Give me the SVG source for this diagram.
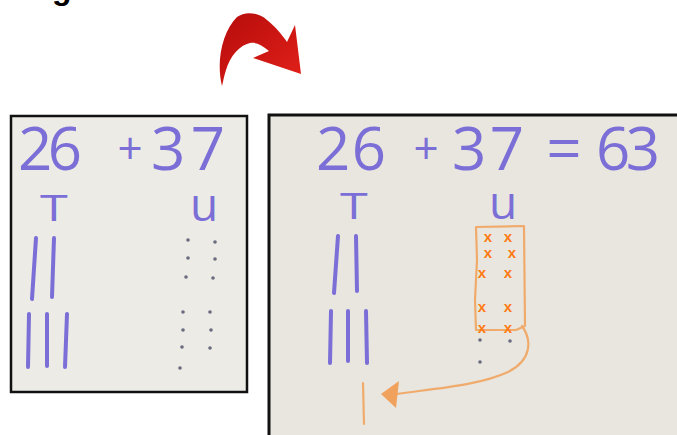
<svg xmlns="http://www.w3.org/2000/svg" width="677" height="435" viewBox="0 0 677 435">
  <defs>
    <linearGradient id="redGrad" x1="0" y1="0" x2="1" y2="1">
      <stop offset="0" stop-color="#b50c0b"/>
      <stop offset="1" stop-color="#e3211a"/>
    </linearGradient>
  </defs>
  <style>
    .board { stroke: #111; }
    .pen { fill: #7b6ed6; font-family: "Open Sans", "Liberation Sans", Arial, sans-serif; font-weight: 400; }
    .tally { stroke: #7b6ed6; stroke-width: 4; stroke-linecap: round; fill: none; }
    .dot { fill: #6a6a80; }
    .cross { fill: #ff7a12; font-family: "Liberation Sans", Arial, sans-serif; font-weight: bold; font-size: 15px; text-anchor: middle; }
    .marker-line { stroke: #f0ab6c; stroke-width: 2.2; fill: none; stroke-linecap: round; stroke-linejoin: round; }
  </style>

  <rect width="677" height="435" fill="#ffffff"/>

  <!-- heading letter, cut by the top edge -->
  <text x="52" y="-1" font-family="Liberation Sans, Arial, sans-serif" font-weight="bold" font-size="32" fill="#000">g</text>

  <!-- left whiteboard: the sum before regrouping -->
  <g id="board-before">
    <rect class="board" x="11" y="116" width="236" height="276" fill="#ecebe5" stroke-width="2.5"/>
    <text class="pen" x="18" y="170" font-size="60" textLength="64">26</text>
    <text class="pen" x="130" y="164" font-size="44" text-anchor="middle">+</text>
    <text class="pen" x="151" y="170" font-size="60" textLength="74">37</text>
    <text class="pen" transform="translate(54,221) scale(1.4,1)" font-size="36" text-anchor="middle">T</text>
    <text class="pen" x="204" y="221" font-size="46" text-anchor="middle">u</text>
    <path class="tally" d="M36,238 L32,299 M54,238 L52,297"/>
    <path class="tally" d="M29,314 L28,367 M47,314 L47,366 M67,314 L65,367"/>
    <g class="dot">
      <circle cx="188" cy="240" r="1.8"/><circle cx="188" cy="258" r="1.8"/><circle cx="186" cy="277" r="1.8"/>
      <circle cx="215" cy="242" r="1.8"/><circle cx="215" cy="259" r="1.8"/><circle cx="213" cy="278" r="1.8"/>
      <circle cx="183" cy="312" r="1.8"/><circle cx="183" cy="330" r="1.8"/><circle cx="182" cy="347" r="1.8"/><circle cx="180" cy="368" r="1.8"/>
      <circle cx="210" cy="312" r="1.8"/><circle cx="211" cy="330" r="1.8"/><circle cx="210" cy="348" r="1.8"/>
    </g>
  </g>

  <!-- right whiteboard: ten units regrouped into a ten -->
  <g id="board-after">
    <rect class="board" x="269" y="115" width="412" height="330" fill="#e8e6df" stroke-width="3"/>
    <text class="pen" x="316" y="170" font-size="60" textLength="70">26</text>
    <text class="pen" x="426" y="164" font-size="44" text-anchor="middle">+</text>
    <text class="pen" x="452" y="170" font-size="60" textLength="72">37</text>
    <text class="pen" x="564" y="171" font-size="62" text-anchor="middle">=</text>
    <text class="pen" x="596" y="170" font-size="60" textLength="64">63</text>
    <text class="pen" transform="translate(354,219) scale(1.4,1)" font-size="36" text-anchor="middle">T</text>
    <text class="pen" x="503" y="219" font-size="46" text-anchor="middle">u</text>
    <path class="tally" d="M338,236 L334,293 M356,236 L357,291"/>
    <path class="tally" d="M331,311 L330,363 M348,311 L348,361 M366,311 L367,363"/>
    <g class="dot">
      <circle cx="480" cy="340" r="1.8"/><circle cx="510" cy="341" r="1.8"/><circle cx="480" cy="362" r="1.8"/>
    </g>
  </g>

  <!-- group of ten units, crossed out -->
  <g id="ten-units">
    <path class="marker-line" d="M476,227 L524,226 L525,326 L516,330 L476,330 L475,300 L477,260 Z"/>
    <text class="cross" x="488" y="242">x</text><text class="cross" x="508" y="242">x</text>
    <text class="cross" x="488" y="258">x</text><text class="cross" x="512" y="258">x</text>
    <text class="cross" x="482" y="278">x</text><text class="cross" x="508" y="278">x</text>
    <text class="cross" x="482" y="312">x</text><text class="cross" x="508" y="312">x</text>
    <text class="cross" x="482" y="333">x</text><text class="cross" x="508" y="333">x</text>
  </g>

  <!-- new ten in the tens column -->
  <g id="new-ten">
    <path class="marker-line" d="M363,383 L364,424" stroke-width="2"/>
  </g>

  <!-- connectors -->
  <g id="connectors">
    <path class="marker-line" d="M522,326 C532,340 532,360 508,372 C480,385 440,388 396,394"/>
    <path d="M381,394 L399,381 L396,408 Z" fill="#f0a15c"/>
    <path d="M222,86 C216,62 222,32 237,17 C245,11 258,12 267,20 C275,26 283,36 287,42 L295,25 L301,74 L253,58 L269,51 C262,45 256,42 250,43 C240,45 230,56 226,70 C224,76 223,82 222,86 Z" fill="url(#redGrad)"/>
  </g>
</svg>
